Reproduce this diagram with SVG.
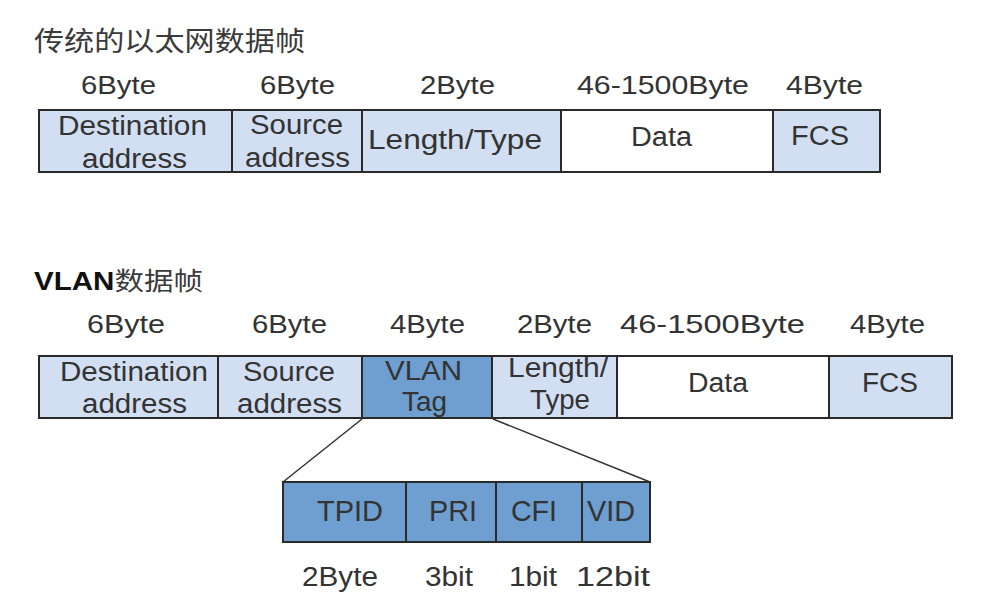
<svg xmlns="http://www.w3.org/2000/svg" width="1000" height="598" viewBox="0 0 1000 598">
<style>
text{font-family:"Liberation Sans","Noto Sans CJK SC",sans-serif;fill:#333}
.lbl{font-size:25px}
.in{font-size:27px}
.big{font-size:29px}
.sub{font-size:27px}
.lt{fill:#D2DEF1;stroke:#2a2a2a;stroke-width:2}
.wh{fill:#FFFFFF;stroke:#2a2a2a;stroke-width:2}
.dk{fill:#6E9FD0;stroke:#2a2a2a;stroke-width:2}
.title{font-size:27px;fill:#3a3a3a}
.conn{stroke:#333;stroke-width:1.5;fill:none}
</style>
<rect width="1000" height="598" fill="#fff"/>
<text class="title" x="34" y="51" textLength="271" lengthAdjust="spacingAndGlyphs">传统的以太网数据帧</text>
<text x="34" y="290" textLength="169" lengthAdjust="spacingAndGlyphs" style="font-size:25px"><tspan style="font-weight:bold;fill:#111">VLAN</tspan><tspan style="fill:#3a3a3a">数据帧</tspan></text>

<g id="top-sizes">
<text class="lbl" x="81" y="94" textLength="75" lengthAdjust="spacingAndGlyphs">6Byte</text>
<text class="lbl" x="260" y="94" textLength="75" lengthAdjust="spacingAndGlyphs">6Byte</text>
<text class="lbl" x="420" y="94" textLength="75" lengthAdjust="spacingAndGlyphs">2Byte</text>
<text class="lbl" x="577" y="94" textLength="172" lengthAdjust="spacingAndGlyphs">46-1500Byte</text>
<text class="lbl" x="786" y="94" textLength="77" lengthAdjust="spacingAndGlyphs">4Byte</text>
</g>
<g id="t-dest"><rect class="lt" x="39" y="110" width="193" height="62"/>
<text class="in" x="58" y="135" textLength="149" lengthAdjust="spacingAndGlyphs">Destination</text>
<text class="in" x="82" y="168" textLength="105" lengthAdjust="spacingAndGlyphs">address</text></g>
<g id="t-src"><rect class="lt" x="232" y="110" width="130" height="62"/>
<text class="in" x="250" y="134" textLength="93" lengthAdjust="spacingAndGlyphs">Source</text>
<text class="in" x="245" y="167" textLength="105" lengthAdjust="spacingAndGlyphs">address</text></g>
<g id="t-lt"><rect class="lt" x="362" y="110" width="199" height="62"/>
<text class="in" x="368" y="149" textLength="174" lengthAdjust="spacingAndGlyphs">Length/Type</text></g>
<g id="t-data"><rect class="wh" x="561" y="110" width="212" height="62"/>
<text class="in" x="631" y="146" textLength="61" lengthAdjust="spacingAndGlyphs">Data</text></g>
<g id="t-fcs"><rect class="lt" x="773" y="110" width="107" height="62"/>
<text class="in" x="791" y="145" textLength="58" lengthAdjust="spacingAndGlyphs">FCS</text></g>

<g id="bot-sizes">
<text class="lbl" x="87" y="333" textLength="78" lengthAdjust="spacingAndGlyphs">6Byte</text>
<text class="lbl" x="252" y="333" textLength="75" lengthAdjust="spacingAndGlyphs">6Byte</text>
<text class="lbl" x="390" y="333" textLength="75" lengthAdjust="spacingAndGlyphs">4Byte</text>
<text class="lbl" x="517" y="333" textLength="75" lengthAdjust="spacingAndGlyphs">2Byte</text>
<text class="lbl" x="620" y="333" textLength="185" lengthAdjust="spacingAndGlyphs">46-1500Byte</text>
<text class="lbl" x="850" y="333" textLength="75" lengthAdjust="spacingAndGlyphs">4Byte</text>
</g>
<g id="b-dest"><rect class="lt" x="39" y="356" width="179" height="62"/>
<text class="in" x="60" y="381" textLength="148" lengthAdjust="spacingAndGlyphs">Destination</text>
<text class="in" x="82" y="413" textLength="105" lengthAdjust="spacingAndGlyphs">address</text></g>
<g id="b-src"><rect class="lt" x="218" y="356" width="144" height="62"/>
<text class="in" x="243" y="381" textLength="92" lengthAdjust="spacingAndGlyphs">Source</text>
<text class="in" x="237" y="413" textLength="105" lengthAdjust="spacingAndGlyphs">address</text></g>
<g id="b-vlan"><rect class="dk" x="362" y="356" width="130" height="62"/>
<text class="in" x="385" y="380" textLength="77" lengthAdjust="spacingAndGlyphs">VLAN</text>
<text class="in" x="402" y="411" textLength="45" lengthAdjust="spacingAndGlyphs">Tag</text></g>
<g id="b-lt"><rect class="lt" x="492" y="356" width="125" height="62"/>
<text class="in" x="508" y="377" textLength="100" lengthAdjust="spacingAndGlyphs">Length/</text>
<text class="in" x="530" y="409" textLength="60" lengthAdjust="spacingAndGlyphs">Type</text></g>
<g id="b-data"><rect class="wh" x="617" y="356" width="212" height="62"/>
<text class="in" x="688" y="392" textLength="60" lengthAdjust="spacingAndGlyphs">Data</text></g>
<g id="b-fcs"><rect class="lt" x="829" y="356" width="123" height="62"/>
<text class="in" x="862" y="392" textLength="56" lengthAdjust="spacingAndGlyphs">FCS</text></g>

<g id="connectors">
<line class="conn" x1="362" y1="419" x2="283" y2="482"/>
<line class="conn" x1="493" y1="419" x2="650" y2="482"/>
</g>

<g id="s-tpid"><rect class="dk" x="283" y="482" width="123" height="60"/>
<text class="big" x="317" y="521" textLength="66" lengthAdjust="spacingAndGlyphs">TPID</text></g>
<g id="s-pri"><rect class="dk" x="406" y="482" width="90" height="60"/>
<text class="big" x="429" y="521" textLength="48" lengthAdjust="spacingAndGlyphs">PRI</text></g>
<g id="s-cfi"><rect class="dk" x="496" y="482" width="86" height="60"/>
<text class="big" x="511" y="521" textLength="46" lengthAdjust="spacingAndGlyphs">CFI</text></g>
<g id="s-vid"><rect class="dk" x="582" y="482" width="68" height="60"/>
<text class="big" x="587" y="521" textLength="48" lengthAdjust="spacingAndGlyphs">VID</text></g>

<g id="sub-sizes">
<text class="sub" x="302" y="586" textLength="76" lengthAdjust="spacingAndGlyphs">2Byte</text>
<text class="sub" x="425" y="586" textLength="48" lengthAdjust="spacingAndGlyphs">3bit</text>
<text class="sub" x="509" y="586" textLength="48" lengthAdjust="spacingAndGlyphs">1bit</text>
<text class="sub" x="576" y="586" textLength="74" lengthAdjust="spacingAndGlyphs">12bit</text>
</g>
</svg>
